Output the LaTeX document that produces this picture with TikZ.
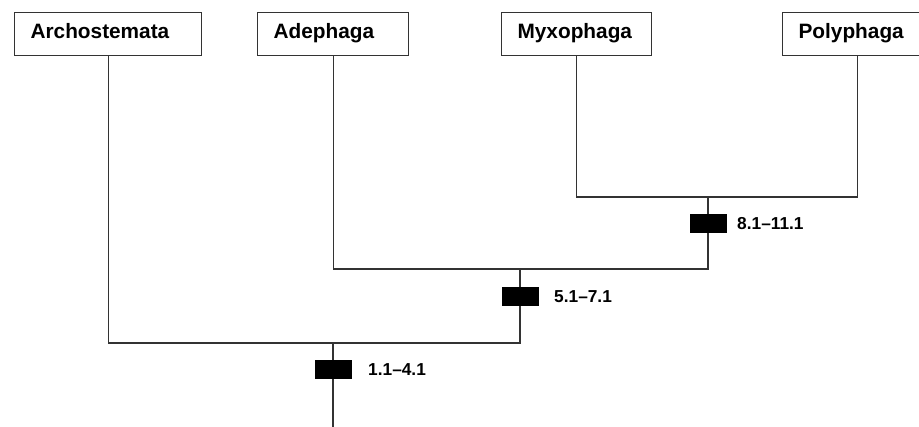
\documentclass[tikz,border=0pt]{standalone}
\usepackage{fontspec}
\setmainfont{Liberation Sans}
\usepackage{xcolor}
\usepackage{tikz}
\usetikzlibrary{positioning, calc}

\definecolor{linegray}{HTML}{333333}

\begin{document}
\begin{tikzpicture}[
    x=1pt, y=-1pt,
    taxon/.style={rectangle, draw=linegray, line width=1.2pt, minimum height=43pt, inner xsep=16pt, inner ysep=0pt, text height=15pt, text depth=6pt, align=left, anchor=north west, font=\fontsize{20.8}{24}\selectfont\bfseries},
    branch/.style={draw=linegray, line width=1.2pt},
    bar/.style={rectangle, fill=black, minimum width=37pt, minimum height=19pt, inner sep=0pt},
    charlabel/.style={anchor=west, inner sep=0pt, font=\fontsize{17.3}{20}\selectfont\bfseries}
]
    \useasboundingbox (0,0) rectangle (919,427);

    \node[taxon, text width=155pt] (arch) at (14,12) {Archostemata};
    \node[taxon, text width=119pt] (adep) at (257,12) {Adephaga};
    \node[taxon, text width=118pt] (myxo) at (501,12) {Myxophaga};
    \node[taxon, text width=118pt] (poly) at (782,12) {Polyphaga};

    % branching points
    \coordinate (mp) at (708,197);
    \coordinate (amp) at (520,269);
    \coordinate (root) at (333,343);
    \coordinate (base) at (333,427);

    \draw[branch] (myxo.south) |- (mp) -| (poly.south);
    \draw[branch] (adep.south) |- (amp) -| (mp);
    \draw[branch] (arch.south) |- (root) -| (amp);
    \draw[branch] (root) -- (base);

    % character bars
    \node[bar] (bar3) at (708,223.5) {};
    \node[bar] (bar2) at (520,297) {};
    \node[bar] (bar1) at (333,370) {};

    \node[charlabel] (lab3) at (737,223.5) {8.1–11.1};
    \node[charlabel] (lab2) at (554,297) {5.1–7.1};
    \node[charlabel] (lab1) at (368,370) {1.1–4.1};
\end{tikzpicture}
\end{document}
